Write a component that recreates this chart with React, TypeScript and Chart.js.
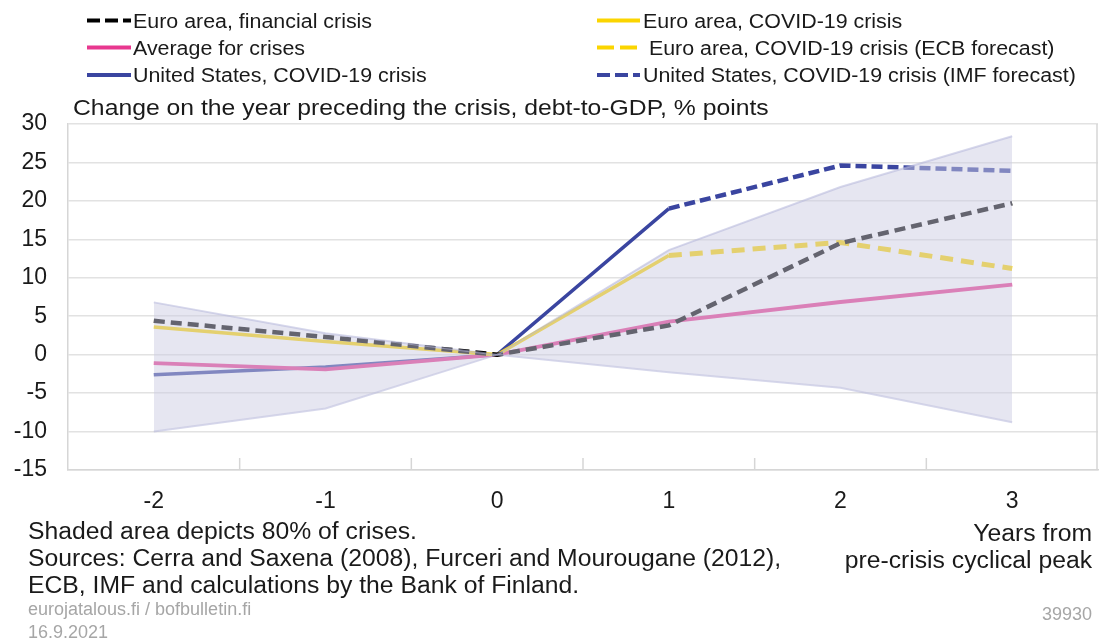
import { useEffect, useRef } from "react";
import { Chart, registerables } from "chart.js";

Chart.register(...registerables);

// ---------- data ----------
const years = ["-2", "-1", "0", "1", "2", "3"];
const bandUpper = [6.8, 2.8, 0, 13.6, 21.8, 28.4];
const bandLower = [-10.0, -7.0, 0, -2.3, -4.3, -8.8];
const euroFinancial = [4.4, 2.3, 0, 3.8, 14.5, 19.7];
const euroCovid = [3.6, 1.7, 0, 12.9, null, null];
const euroCovidEcb = [null, null, null, 12.9, 14.6, 11.2];
const averageCrises = [-1.1, -1.9, 0, 4.3, 6.85, 9.1];
const usCovid = [-2.6, -1.6, 0, 19.0, null, null];
const usCovidImf = [null, null, null, 19.0, 24.6, 23.9];
const yMin = -15;
const yMax = 30;
const yStep = 5;

const legendLeft = [
  "Euro area, financial crisis",
  "Average for crises",
  "United States, COVID-19 crisis",
];
const legendRight = [
  "Euro area, COVID-19 crisis",
  " Euro area, COVID-19 crisis (ECB forecast)",
  "United States, COVID-19 crisis (IMF forecast)",
];
const subTitle = "Change on the year preceding the crisis, debt-to-GDP, % points";
const notes = [
  "Shaded area depicts 80% of crises.",
  "Sources: Cerra and Saxena (2008), Furceri and Mourougane (2012),",
  "ECB, IMF and calculations by the Bank of Finland.",
];
const axisNote = ["Years from", "pre-crisis cyclical peak"];
const footer = ["eurojatalous.fi / bofbulletin.fi", "16.9.2021"];
const chartId = "39930";

// ---------- styles ----------
const FONT = '"Liberation Sans", Arial, sans-serif';
const BLACK = "#000000";
const YELLOW = "#fbd500";
const PINK = "#e8388f";
const BLUE = "#3a45a0";
const BAND_FILL = "rgba(203,205,226,0.49)";
const BAND_BORDER = "rgba(180,183,218,0.55)";
const GRID = "#e2e2e2";
const AXIS = "#d6d6d6";
const TEXT = "#1a1a1a";

function txt(
  ctx: CanvasRenderingContext2D,
  s: string,
  x: number,
  y: number,
  size: number,
  color: string,
  align: CanvasTextAlign = "left",
  sx = 1.12
) {
  ctx.save();
  ctx.font = `${size}px ${FONT}`;
  ctx.fillStyle = color;
  ctx.textBaseline = "alphabetic";
  ctx.textAlign = align;
  ctx.translate(x, y);
  ctx.scale(sx, 1);
  ctx.fillText(s, 0, 0);
  ctx.restore();
}

function sample(
  ctx: CanvasRenderingContext2D,
  x1: number,
  x2: number,
  y: number,
  color: string,
  dash: number[],
  width: number
) {
  ctx.save();
  ctx.strokeStyle = color;
  ctx.lineWidth = width;
  ctx.setLineDash(dash);
  ctx.beginPath();
  ctx.moveTo(x1, y);
  ctx.lineTo(x2, y);
  ctx.stroke();
  ctx.restore();
}

const decorPlugin = {
  id: "decor",
  beforeDatasetsDraw(chart: any) {
    const ctx: CanvasRenderingContext2D = chart.ctx;
    const { chartArea } = chart;
    const xs = chart.scales.x;
    const step = xs.getPixelForValue(1) - xs.getPixelForValue(0);
    ctx.save();
    ctx.strokeStyle = AXIS;
    ctx.lineWidth = 1.5;
    // inner tick marks between categories
    for (let i = 1; i < years.length; i++) {
      const px = xs.getPixelForValue(i) - step / 2;
      ctx.beginPath();
      ctx.moveTo(px, chartArea.bottom - 12);
      ctx.lineTo(px, chartArea.bottom);
      ctx.stroke();
    }
    // right border
    ctx.beginPath();
    ctx.moveTo(chartArea.right - 1, chartArea.top);
    ctx.lineTo(chartArea.right - 1, chartArea.bottom);
    ctx.stroke();
    ctx.restore();
  },
  afterDraw(chart: any) {
    const ctx: CanvasRenderingContext2D = chart.ctx;
    // legend
    const rowsY = [20.5, 47.5, 75];
    const baseY = [27.5, 54.5, 82];
    const leftStyles = [
      { c: BLACK, d: [13, 5], w: 4 },
      { c: PINK, d: [], w: 4 },
      { c: BLUE, d: [], w: 4 },
    ];
    const rightStyles = [
      { c: YELLOW, d: [], w: 4 },
      { c: YELLOW, d: [17, 6], w: 4 },
      { c: BLUE, d: [13, 5], w: 4 },
    ];
    for (let i = 0; i < 3; i++) {
      sample(ctx, 87, 131, rowsY[i], leftStyles[i].c, leftStyles[i].d, leftStyles[i].w);
      txt(ctx, legendLeft[i], 133, baseY[i], 20, TEXT, "left", 1.07);
      sample(ctx, 597, 640, rowsY[i], rightStyles[i].c, rightStyles[i].d, rightStyles[i].w);
      txt(ctx, legendRight[i], 643, baseY[i], 20, TEXT, "left", 1.07);
    }
    // subtitle
    txt(ctx, subTitle, 73, 115, 22.5, TEXT, "left", 1.1);
    // notes
    const nb = [539, 566, 593];
    notes.forEach((n, i) => txt(ctx, n, 28, nb[i], 23, TEXT, "left", 1.075));
    txt(ctx, axisNote[0], 1092, 541, 23, TEXT, "right", 1.075);
    txt(ctx, axisNote[1], 1092, 568, 23, TEXT, "right", 1.075);
    // footer
    txt(ctx, footer[0], 28, 615, 18, "#a6a6a6", "left", 1.0);
    txt(ctx, footer[1], 28, 638, 18, "#a6a6a6", "left", 1.0);
    txt(ctx, chartId, 1092, 620, 18, "#a6a6a6", "right", 1.0);
  },
};

export default function App() {
  const ref = useRef<HTMLCanvasElement | null>(null);

  useEffect(() => {
    if (!ref.current) return;
    const line = (data: any[], color: string, dash: number[], width: number) => ({
      data,
      borderColor: color,
      backgroundColor: color,
      borderDash: dash,
      borderWidth: width,
      pointRadius: 0,
      fill: false,
      tension: 0,
    });
    const chart = new Chart(ref.current, {
      type: "line",
      data: {
        labels: years,
        datasets: [
          {
            label: "80% band upper",
            data: bandUpper,
            borderColor: BAND_BORDER,
            backgroundColor: BAND_FILL,
            borderWidth: 2,
            pointRadius: 0,
            fill: "+1",
            tension: 0,
          },
          {
            label: "80% band lower",
            data: bandLower,
            borderColor: BAND_BORDER,
            borderWidth: 2,
            pointRadius: 0,
            fill: false,
            tension: 0,
          },
          { label: legendLeft[0], ...line(euroFinancial, BLACK, [11, 6], 4.5) },
          { label: legendRight[0], ...line(euroCovid, YELLOW, [], 3.5) },
          { label: legendLeft[1], ...line(averageCrises, PINK, [], 3.8) },
          { label: legendRight[1], ...line(euroCovidEcb, YELLOW, [13, 8], 5) },
          { label: legendLeft[2], ...line(usCovid, BLUE, [], 3.5) },
          { label: legendRight[2], ...line(usCovidImf, BLUE, [11, 5], 4.5) },
        ],
      },
      options: {
        responsive: false,
        animation: false,
        layout: { padding: { top: 124, left: 0, right: 1, bottom: 0 } },
        plugins: {
          legend: { display: false },
          title: { display: false },
          tooltip: { enabled: false },
        },
        scales: {
          x: {
            type: "category",
            offset: true,
            grid: { display: false, drawTicks: false },
            border: { display: true, color: AXIS, width: 1.5 },
            ticks: {
              color: TEXT,
              font: { family: FONT, size: 23 },
              padding: 18,
              maxRotation: 0,
            },
            afterFit: (s: any) => {
              s.height = 173;
            },
          },
          y: {
            min: yMin,
            max: yMax,
            grid: { color: GRID, lineWidth: 1.5, drawTicks: false },
            border: { display: true, color: AXIS, width: 1.5 },
            ticks: {
              stepSize: yStep,
              color: TEXT,
              font: { family: FONT, size: 23 },
              padding: 21,
            },
            afterFit: (s: any) => {
              s.width = 68;
            },
          },
        },
      },
      plugins: [decorPlugin],
    });
    return () => chart.destroy();
  }, []);

  return (
    <div
      style={{
        position: "absolute",
        left: 0,
        top: 0,
        width: 1099,
        height: 643,
        background: "#ffffff",
      }}
    >
      <canvas ref={ref} width={1099} height={643} style={{ display: "block" }} />
    </div>
  );
}
